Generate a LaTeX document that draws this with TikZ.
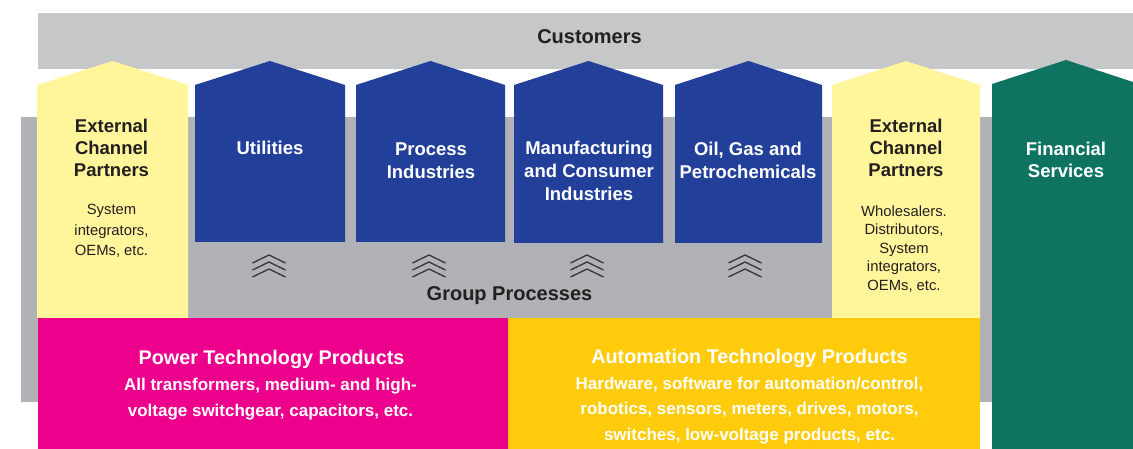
\documentclass[tikz,border=0pt]{standalone}
\usepackage{fontspec}
\setmainfont{Liberation Sans}

\definecolor{bandgray}{HTML}{C6C7C9}
\definecolor{backgray}{HTML}{B1B2B5}
\definecolor{paleyellow}{HTML}{FFF59B}
\definecolor{segblue}{HTML}{22409A}
\definecolor{fingreen}{HTML}{0F7361}
\definecolor{powermag}{HTML}{EC008C}
\definecolor{autoamber}{HTML}{FFCB0B}
\definecolor{ink}{HTML}{231F20}

% house-shaped column: fill colour, left x, right x, bottom y
\newcommand\housecol[4]{%
  \fill[#1] (#2,#4) -- (#2,85) -- ({(#2+#3)/2},61) -- (#3,85) -- (#3,#4) -- cycle;}

% multi-line labels are placed by the baseline of their last line
\tikzset{
  lbl/.style={inner sep=0pt, align=center, anchor=base},
  bigtitle/.style={lbl, text=ink, font=\fontsize{20}{24}\selectfont\bfseries},
  seglabel/.style={lbl, text=white, font=\fontsize{18.5}{23}\selectfont\bfseries},
  partnerlabel/.style={lbl, text=ink, font=\fontsize{18.5}{22}\selectfont\bfseries},
  partnernote/.style={lbl, text=ink, font=\fontsize{14.8}{20}\selectfont},
  prodtitle/.style={lbl, text=white, font=\fontsize{19.8}{24}\selectfont\bfseries},
  prodlines/.style={lbl, text=white, font=\fontsize{17}{26}\selectfont\bfseries},
  chev/.pic={
    \foreach \dy in {0,7,14}
      \draw[ink!90, line width=1.3pt] (-16.5,{\dy+8}) -- (0,\dy) -- (16.5,{\dy+8});
  }
}

\begin{document}
\begin{tikzpicture}[x=1pt,y=-1pt]
\useasboundingbox (0,0) rectangle (1133,449);

% customer band and the grey group-process backdrop
\fill[bandgray] (38,13) rectangle (1133,69);
\fill[backgray] (21,117) rectangle (992,402);

% columns
\housecol{paleyellow}{37}{188}{318}
\housecol{segblue}{195}{345}{242}
\housecol{segblue}{356}{505}{242}
\housecol{segblue}{514}{663}{243}
\housecol{segblue}{675}{822}{243}
\housecol{paleyellow}{832}{980}{318}
\fill[fingreen] (992,449) -- (992,84) -- (1066,60) -- (1133,82) -- (1133,449) -- cycle;

% product divisions
\fill[powermag] (38,318) rectangle (508,449);
\fill[autoamber] (508,318) rectangle (980,449);

% group process chevrons
\pic at (269,255) {chev};
\pic at (429,255) {chev};
\pic at (587,255) {chev};
\pic at (745,255) {chev};

% texts
\node[bigtitle] (cust) at (589.5,43.5) {Customers};
\node[bigtitle] (gp) at (509.5,301) {Group Processes};

\node[partnerlabel] (ecpL) at (111.5,177) {External\\Channel\\Partners};
\node[partnernote] (ecpLn) at (111.5,255) {System\\integrators,\\OEMs, etc.};
\node[partnerlabel] (ecpR) at (906,177) {External\\Channel\\Partners};
\node[partnernote, font=\fontsize{14.8}{18.6}\selectfont] (ecpRn) at (904,290.5) {Wholesalers.\\Distributors,\\System\\integrators,\\OEMs, etc.};

\node[seglabel] (util) at (270,155) {Utilities};
\node[seglabel] (proc) at (431,178.5) {Process\\Industries};
\node[seglabel] (manu) at (589,201) {Manufacturing\\and Consumer\\Industries};
\node[seglabel] (oil) at (748,178.5) {Oil, Gas and\\Petrochemicals};
\node[seglabel, font=\fontsize{18.5}{21.5}\selectfont\bfseries] (fin) at (1066,177.5) {Financial\\Services};

\node[prodtitle] (ptp) at (271.5,364) {Power Technology Products};
\node[prodlines] (ptpd) at (270.5,416) {All transformers, medium- and high-\\voltage switchgear, capacitors, etc.};
\node[prodtitle] (atp) at (749.5,363.5) {Automation Technology Products};
\node[prodlines, font=\fontsize{17}{25.7}\selectfont\bfseries] (atpd) at (749.5,440.5) {Hardware, software for automation/control,\\robotics, sensors, meters, drives, motors,\\switches, low-voltage products, etc.};
\end{tikzpicture}
\end{document}
